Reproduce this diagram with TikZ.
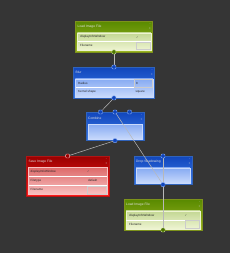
\documentclass[tikz,border=0pt]{standalone}
\usepackage{fontspec}
\setmainfont{Liberation Sans}
\newfontfamily\symfont{DejaVu Sans}
\usetikzlibrary{positioning, calc, shadows}

\definecolor{bgcol}{HTML}{353535}
\definecolor{grnTop}{HTML}{598A00}
\definecolor{grnBot}{HTML}{9CB622}
\definecolor{grnPanTop}{HTML}{C3D793}
\definecolor{grnPanBot}{HTML}{EEF4D2}
\definecolor{bluTop}{HTML}{1146BC}
\definecolor{bluBot}{HTML}{3C7CEA}
\definecolor{bluPanTop}{HTML}{86AAF2}
\definecolor{bluPanBot}{HTML}{C9DAFC}
\definecolor{redTop}{HTML}{990000}
\definecolor{redBot}{HTML}{FF1C1C}
\definecolor{redPanTop}{HTML}{DD6A6A}
\definecolor{redPanBot}{HTML}{F9C2C2}
\definecolor{wirecol}{HTML}{B8B8B8}

\pgfdeclarelayer{top}
\pgfsetlayers{main,top}

\begin{document}
\begin{tikzpicture}[x=1pt, y=-1pt,
    box/.style={anchor=north west, inner sep=0pt, line width=0.3pt,
      drop shadow={opacity=0.45, shadow xshift=1pt, shadow yshift=-1pt}},
    gbox/.style={box, draw=grnBot!80!black, top color=grnTop, bottom color=grnBot},
    bbox/.style={box, draw=bluBot!80!black, top color=bluTop, bottom color=bluBot},
    rbox/.style={box, draw=redBot!70!black, top color=redTop, bottom color=redBot},
    panel/.style={anchor=north west, inner sep=0pt, line width=0.35pt},
    gpanel/.style={panel, draw=grnPanBot, top color=grnPanTop, bottom color=grnPanBot},
    bpanel/.style={panel, draw=bluPanBot, top color=bluPanTop, bottom color=bluPanBot},
    rpanel/.style={panel, draw=redPanBot, top color=redPanTop, bottom color=redPanBot},
    title/.style={anchor=west, inner sep=0pt, text=white!88!black, font=\fontsize{3.3}{3.6}\selectfont},
    icon/.style={inner sep=0pt, text=white!80!black, font=\fontsize{3}{3}\selectfont},
    lbl/.style={anchor=west, inner sep=0pt, text=black!85, font=\fontsize{3}{3.4}\selectfont},
    check/.style={inner sep=0pt, text=black!70, font=\symfont\fontsize{3}{3}\selectfont},
    valbox/.style={draw=black!20, line width=0.25pt},
    sep/.style={draw=white!60, line width=0.25pt},
    sock/.style={draw, rounded corners=1pt, minimum size=4pt, inner sep=0pt, line width=0.45pt},
    gsock/.style={sock, draw=grnPanTop, fill=grnTop!85!black},
    bsock/.style={sock, draw=bluPanTop, fill=bluTop},
    rsock/.style={sock, draw=redPanBot, fill=redTop},
    wire/.style={draw=wirecol, line width=0.5pt},
]
  \fill[bgcol] (0,0) rectangle (230,253);

  % load image (top)
  \node[gbox, minimum width=77pt, minimum height=30.7pt] (load1) at (75.3,21) {};
  \node[gpanel, minimum width=73.4pt, minimum height=17.3pt] (load1p) at (77.3,32.7) {};
  \node[title] at (77.5,26.5) {Load Image File};
  \node[icon] at (150,24.2) {-};
  \node[icon] at (150,29) {+};
  \draw[sep] (77.5,41.5) -- (150.5,41.5);
  \node[lbl] at (80,37.2) {displayInfoWindow};
  \node[check] at (137.5,37.2) {✓};
  \node[lbl] at (80,45.7) {Filename};
  \draw[valbox] (136,42.3) rectangle (150.3,49.6);

  % blur
  \node[bbox, minimum width=81pt, minimum height=30.7pt] (blur) at (73.3,67) {};
  \node[bpanel, minimum width=77.4pt, minimum height=18pt] (blurp) at (75.3,78.7) {};
  \node[title] at (75.5,72.6) {Blur};
  \node[icon] at (152,70.2) {-};
  \node[icon] at (152,75) {+};
  \draw[sep] (75.5,87.6) -- (152.5,87.6);
  \node[lbl] at (78,83.2) {Radius};
  \draw[valbox] (134,79.3) rectangle (152.3,87.2);
  \node[lbl] at (136,83.2) {8};
  \node[lbl] at (78,92.2) {Kernel shape};
  \node[lbl] at (135.3,92.2) {square};

  % combine
  \node[bbox, minimum width=57.7pt, minimum height=28.3pt] (comb) at (86,112) {};
  \node[bpanel, minimum width=53.7pt, minimum height=15.3pt] (combp) at (88,124) {};
  \node[title] at (88,118) {Combine};
  \node[icon] at (141.5,115.3) {-};
  \node[icon] at (141.5,120) {+};

  % save image
  \node[rbox, minimum width=82.4pt, minimum height=39.7pt] (save) at (26.3,156) {};
  \node[rpanel, minimum width=78.4pt, minimum height=27pt] (savep) at (28.3,167.3) {};
  \node[title] at (28.5,161.8) {Save Image File};
  \node[icon] at (106.3,159.3) {-};
  \node[icon] at (106.3,164) {+};
  \draw[sep] (28.5,176.3) -- (106.5,176.3) (28.5,185.2) -- (106.5,185.2);
  \node[lbl] at (30.5,172) {displayInfoWindow};
  \node[check] at (88.5,172) {✓};
  \node[lbl] at (30.5,180.8) {Filetype};
  \node[lbl] at (88,180.8) {default};
  \node[lbl] at (30.5,189.8) {Filename};
  \draw[valbox] (87.3,185.8) rectangle (106.2,193.8);

  % drop shadow
  \node[bbox, minimum width=57.7pt, minimum height=28.3pt] (shad) at (134,156) {};
  \node[bpanel, minimum width=53.7pt, minimum height=15.3pt] (shadp) at (136,167.7) {};
  \node[title] at (136,162) {Drop Shadowing};
  \node[icon] at (189.5,159.3) {-};
  \node[icon] at (189.5,164) {+};

  % load image (bottom)
  \node[gbox, minimum width=77.7pt, minimum height=30.4pt] (load2) at (124,199.3) {};
  \node[gpanel, minimum width=74pt, minimum height=18pt] (load2p) at (126,210.7) {};
  \node[title] at (126,205) {Load Image File};
  \node[icon] at (199.5,202.3) {-};
  \node[icon] at (199.5,207) {+};
  \draw[sep] (126.2,219.8) -- (199.8,219.8);
  \node[lbl] at (129,215.4) {displayInfoWindow};
  \node[check] at (186,215.4) {✓};
  \node[lbl] at (129,224.2) {Filename};
  \draw[valbox] (185,220.6) rectangle (199.6,228);

  \begin{pgfonlayer}{top}
    \node[gsock] (load1out) at (load1.south) {};
    \node[bsock] (blurin) at (blur.north) {};
    \node[bsock] (blurout) at (blur.south) {};
    \node[bsock] (combinA) at ($(comb.north)+(-14.5,0)$) {};
    \node[bsock] (combinB) at (comb.north) {};
    \node[bsock] (combinC) at ($(comb.north)+(14.5,0)$) {};
    \node[bsock] (combout) at (comb.south) {};
    \node[rsock] (savein) at (save.north) {};
    \node[bsock] (shadin) at (shad.north) {};
    \node[bsock] (shadout) at (shad.south) {};
    \node[gsock] (load2out) at (load2.south) {};
  \end{pgfonlayer}

  \draw[wire] (load1out) -- (blurin);
  \draw[wire] (blurout) -- (combinA);
  \draw[wire] (combinB) -- (shadout);
  \draw[wire] (combout) -- (savein);
  \draw[wire] (shadin) -- (load2out);
\end{tikzpicture}
\end{document}
